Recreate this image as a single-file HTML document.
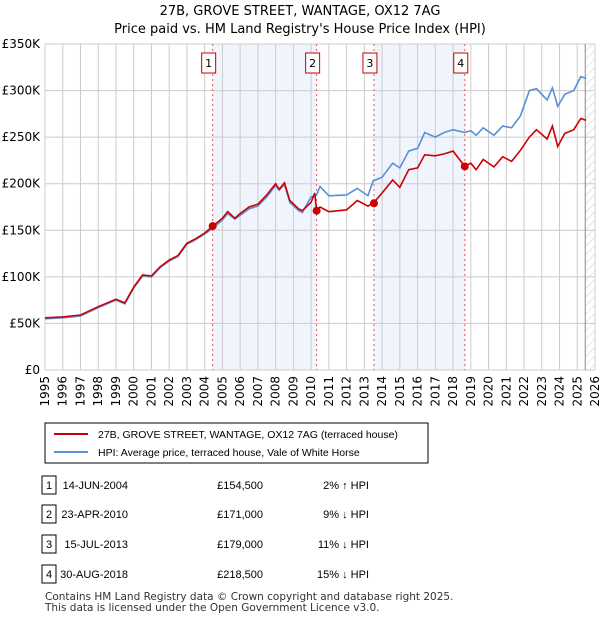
<!DOCTYPE html>
<html><head><meta charset="utf-8"><style>
body{margin:0;background:#fff;font-family:"Liberation Sans",sans-serif;}
#wrap{position:relative;width:600px;height:620px;overflow:hidden}
</style></head><body><div id="wrap">
<svg id="c" width="600" height="620" style="position:absolute;left:0;top:0"></svg>
</div>
<script>
const years=[1995,1996,1997,1998,1999,1999.5,2000,2000.5,2001,2001.5,2002,2002.5,2003,2003.5,2004,2004.45,2005,2005.3,2005.7,2006,2006.5,2007,2007.5,2008,2008.2,2008.5,2008.8,2009.3,2009.5,2010,2010.2,2010.31,2010.5,2011,2012,2012.6,2013.2,2013.5,2014,2014.6,2015,2015.5,2016,2016.4,2017,2017.5,2018,2018.66,2019,2019.3,2019.7,2020.3,2020.8,2021.3,2021.8,2022.3,2022.7,2023.3,2023.6,2023.9,2024.3,2024.8,2025.2,2025.5];
const hpi=[55,56,58,67,75,71,88,101,100,110,117,122,135,140,146,152,161,168,162,166,173,176,186,198,193,199,180,171,169,186,187,188,197,187,188,195,187,203,207,222,217,235,238,255,250,255,258,255,257,252,260,252,262,260,273,300,302,290,303,283,296,300,315,313];
const paid=[56,57,59,68,76,72,89,102,101,111,118,123,136,141,147,154.5,163,170,163,168,175,178,188,200,194,201,182,173,171,180,190,171,175,170,172,182,176,179,190,204,196,215,217,231,230,232,235,218.5,222,215,226,218,229,224,236,250,258,248,262,240,254,258,270,268];
const saleYears=[2004.45,2010.31,2013.54,2018.66];
const salePrices=[154.5,171,179,218.5];
const yTicks=[0,50,100,150,200,250,300,350];
const xTicks=[];for(let y=1995;y<=2026;y++)xTicks.push(y);
const X=y=>45+(y-1995)*550/31, Y=v=>370-v*326/350;
const s=document.getElementById('c');const NS='http://www.w3.org/2000/svg';
const DV='"DejaVu Sans",sans-serif';
function add(tag,attrs,name,txt){const e=document.createElementNS(NS,tag);for(const k in attrs)e.setAttribute(k,attrs[k]);


if(txt!==undefined)e.textContent=txt;s.appendChild(e);return e;}
add('rect',{x:X(saleYears[0]),y:44,width:X(saleYears[1])-X(saleYears[0]),height:326,fill:'#f0f4fd'},'shade-1-2');
add('rect',{x:X(saleYears[2]),y:44,width:X(saleYears[3])-X(saleYears[2]),height:326,fill:'#f0f4fd'},'shade-3-4');
const defs=document.createElementNS(NS,'defs');defs.innerHTML='<pattern id="h" width="6" height="6" patternUnits="userSpaceOnUse" patternTransform="rotate(45)"><line x1="0" y1="0" x2="0" y2="6" stroke="#ccc" stroke-width="1"/></pattern>';s.appendChild(defs);
add('rect',{x:X(2025.45),y:44,width:X(2026)-X(2025.45),height:326,fill:'url(#h)'},'forecast-hatch');
xTicks.forEach(y=>{add('line',{x1:X(y),x2:X(y),y1:44,y2:370,stroke:'#ccc'},'x-grid');
add('text',{x:X(y)+4,y:376,transform:`rotate(-90 ${X(y)+4} 376)`,'text-anchor':'end','font-size':12,'font-family':DV},'x-tick-label',y);});
yTicks.forEach(v=>{add('line',{x1:45,x2:595,y1:Y(v),y2:Y(v),stroke:'#ccc'},'y-grid');
add('text',{x:40,y:Y(v)+4,'text-anchor':'end','font-size':12,'font-family':DV},'y-tick-label','£'+(v?v+'K':'0'));});
add('line',{x1:X(2025.45),x2:X(2025.45),y1:44,y2:370,stroke:'#888'},'now-line');
saleYears.forEach((y,i)=>{add('line',{x1:X(y),x2:X(y),y1:44,y2:370,stroke:'#e55','stroke-dasharray':'2,3'},'sale-line');
add('rect',{x:X(y)-11,y:53,width:14,height:20,fill:'#fff',stroke:'#c00'},'sale-marker-box');
add('text',{x:X(y)-4,y:67,'text-anchor':'middle','font-size':11,'font-family':DV},'sale-marker-label',i+1);});
const pts=a=>years.map((y,i)=>X(y).toFixed(1)+','+Y(a[i]).toFixed(1)).join(' ');
add('polyline',{points:pts(hpi),fill:'none',stroke:'#5b8fd4','stroke-width':1.6},'hpi-line');
add('polyline',{points:pts(paid),fill:'none',stroke:'#c00','stroke-width':1.6},'price-paid-line');
saleYears.forEach((y,i)=>add('circle',{cx:X(y),cy:Y(salePrices[i]),r:4,fill:'#c00'},'sale-point'));
add('text',{x:300,y:15,'text-anchor':'middle','font-size':13,'font-family':DV},'chart-title','27B, GROVE STREET, WANTAGE, OX12 7AG');
add('text',{x:300,y:33,'text-anchor':'middle','font-size':13,'font-family':DV},'chart-subtitle',"Price paid vs. HM Land Registry's House Price Index (HPI)");
add('rect',{x:45,y:423,width:383,height:40,fill:'#fff',stroke:'#000'},'legend-box');
add('line',{x1:54,x2:88,y1:434,y2:434,stroke:'#c00','stroke-width':2},'legend-swatch-price');
add('text',{x:98,y:438,'font-size':10.5},'legend-entry-price','27B, GROVE STREET, WANTAGE, OX12 7AG (terraced house)');
add('line',{x1:54,x2:88,y1:452,y2:452,stroke:'#5b8fd4','stroke-width':2},'legend-swatch-hpi');
add('text',{x:98,y:456,'font-size':10.5},'legend-entry-hpi','HPI: Average price, terraced house, Vale of White Horse');
const rows=[['14-JUN-2004','£154,500','2% ↑ HPI'],['23-APR-2010','£171,000','9% ↓ HPI'],['15-JUL-2013','£179,000','11% ↓ HPI'],['30-AUG-2018','£218,500','15% ↓ HPI']];
const ry=[485,514,544,574];
rows.forEach((r,i)=>{add('rect',{x:42,y:ry[i]-9,width:14,height:18,fill:'#fff',stroke:'#000'},'table-row-num-box');
add('text',{x:49,y:ry[i]+4,'text-anchor':'middle','font-size':11},'table-row-num',i+1);
add('text',{x:128,y:ry[i]+4,'text-anchor':'end','font-size':11},'table-date',r[0]);
add('text',{x:263,y:ry[i]+4,'text-anchor':'end','font-size':11},'table-price',r[1]);
add('text',{x:369,y:ry[i]+4,'text-anchor':'end','font-size':11},'table-hpi',r[2]);});
add('text',{x:45,y:600,'font-size':10.5,fill:'#333','font-family':DV},'footer-line-1','Contains HM Land Registry data © Crown copyright and database right 2025.');
add('text',{x:45,y:611,'font-size':10.5,fill:'#333','font-family':DV},'footer-line-2','This data is licensed under the Open Government Licence v3.0.');
</script></body></html>
